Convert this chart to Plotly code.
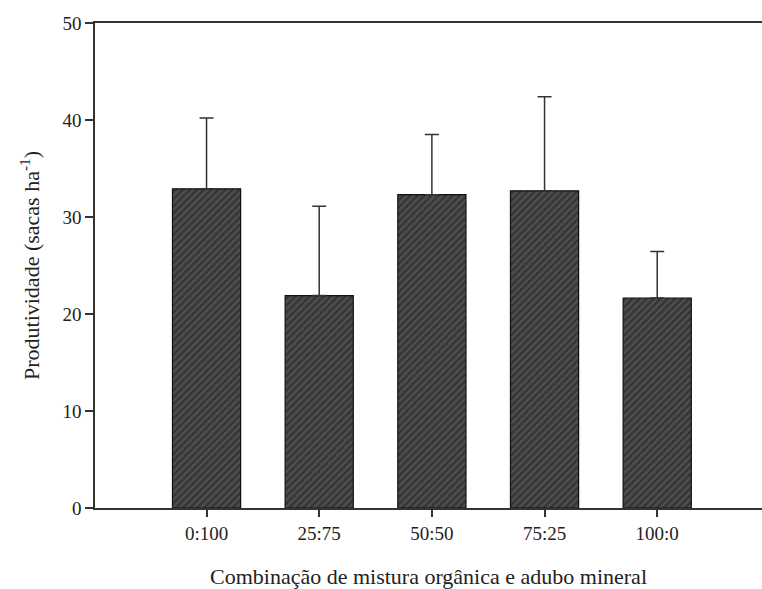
import plotly.graph_objects as go

categories = ["0:100", "25:75", "50:50", "75:25", "100:0"]
means = [32.9, 21.9, 32.3, 32.7, 21.65]
errors = [7.3, 9.2, 6.2, 9.7, 4.8]
y_ticks = [0, 10, 20, 30, 40, 50]

font_family = "Liberation Serif, Times New Roman, serif"

fig = go.Figure(go.Bar(
    x=categories,
    y=means,
    width=0.605,
    marker=dict(
        color="#333333",
        line=dict(color="#111111", width=1.2),
        pattern=dict(shape="/", fgcolor="#1c1c1c", bgcolor="#4e4e4e", size=5, solidity=0.5),
    ),
    error_y=dict(
        type="data",
        symmetric=False,
        array=errors,
        arrayminus=[0] * len(errors),
        color="#333333",
        thickness=1.5,
        width=7,
    ),
))

fig.update_layout(
    width=762,
    height=589,
    margin=dict(l=95, r=0, t=23, b=79),
    paper_bgcolor="white",
    plot_bgcolor="white",
    font=dict(family=font_family, color="#222222", size=19),
    showlegend=False,
    xaxis=dict(
        type="category",
        range=[-0.99, 4.93],
        showline=True,
        linecolor="#333333",
        linewidth=1.5,
        mirror=True,
        ticks="outside",
        ticklen=7,
        tickwidth=1.5,
        tickcolor="#333333",
        showgrid=False,
        tickfont=dict(size=19),
        title=dict(text="Combinação de mistura orgânica e adubo mineral",
                   font=dict(size=22), standoff=30),
    ),
    yaxis=dict(
        range=[0, 50],
        tickvals=y_ticks,
        showline=True,
        linecolor="#333333",
        linewidth=1.5,
        ticks="outside",
        ticklen=8,
        tickwidth=1.5,
        tickcolor="#333333",
        showgrid=False,
        zeroline=False,
        tickfont=dict(size=19),
        title=dict(text="Produtividade (sacas ha<sup>-1</sup>)",
                   font=dict(size=22), standoff=17),
    ),
)

fig.write_html(
    "out.html",
    config={"displayModeBar": False},
    post_script="document.body.style.margin='0';document.body.style.overflow='hidden';",
)
